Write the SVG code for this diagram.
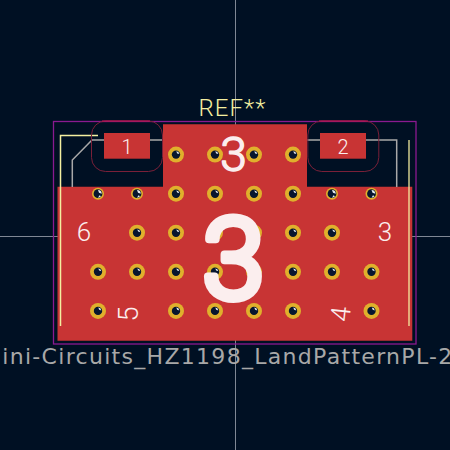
<svg xmlns="http://www.w3.org/2000/svg" width="450" height="450" viewBox="0 0 450 450">
<style>
.ring{fill:#e0b02c}
.hole{fill:#07162f}
.gl{fill:#e6ecf2}
.t{font-family:"Roboto","DejaVu Sans",sans-serif;font-weight:300;fill:#fbeeee;text-anchor:middle}
.big{stroke:#fbeeee;stroke-linejoin:round;stroke-linecap:round}
.g{fill:none;stroke:#a8a8a8;stroke-width:1.500}
.y{fill:none;stroke:#f4efa0;stroke-width:1.500}
.c{fill:none;stroke:#7a2038;stroke-width:1}
</style>
<defs>
<g id="b"><circle r="8" class="ring"/><circle r="4.200" class="hole"/><path d="M0.300-3.300A3.300 3.300 0 0 1 3.300-0.500L1.200-1.200Z" class="gl"/></g>
<g id="s"><circle r="6" class="ring"/><circle r="4.400" class="hole"/><path d="M0-3.800A4 4 0 0 1 3.800 0L1-1ZM3 2.500A4 4 0 0 1 0 4L1.500 1.500Z" class="gl"/></g>
</defs>
<rect width="450" height="450" fill="#001023"/>
<path d="M235.500 0V450M0 236.500H450" stroke="#7f8794" stroke-width="1" fill="none"/>
<rect x="53.500" y="121.500" width="362.500" height="222.500" fill="none" stroke="#8a1a90" stroke-width="1.300"/>
<path d="M163 124.300H307V186.700H412.300V340.700H57.500V186.700H163Z" fill="#c83434"/>
<path class="g" d="M163 140H150M104 140H92L72.300 160V187M307 140H320M366 140H396.700V187"/>
<path class="y" d="M98 135.500H60.500V326"/>
<path class="y" d="M409 140V326" stroke-opacity=".85"/>
<rect x="91.500" y="121" width="71" height="50.500" rx="14" class="c"/>
<rect x="307.800" y="121" width="71" height="50.500" rx="14" class="c"/>
<path d="M102 121H150M319 121H368" stroke="#c8145a" stroke-width="1" fill="none"/>
<rect x="104" y="133" width="46" height="25.700" fill="#c83434"/>
<rect x="320" y="133" width="46" height="25.700" fill="#c83434"/>
<use href="#b" x="176" y="154.600"/><use href="#b" x="215" y="154.600"/><use href="#b" x="254" y="154.600"/><use href="#b" x="293" y="154.600"/>
<use href="#s" x="98" y="193.700"/><use href="#s" x="137" y="193.700"/><use href="#b" x="176" y="193.700"/><use href="#b" x="215" y="193.700"/><use href="#b" x="254" y="193.700"/><use href="#b" x="293" y="193.700"/><use href="#s" x="332" y="193.700"/><use href="#s" x="371.500" y="193.700"/>
<use href="#b" x="137" y="232.700"/><use href="#b" x="176" y="232.700"/><use href="#b" x="215" y="232.700"/><use href="#b" x="254" y="232.700"/><use href="#b" x="293" y="232.700"/><use href="#b" x="332" y="232.700"/>
<use href="#b" x="98" y="271.800"/><use href="#b" x="137" y="271.800"/><use href="#b" x="176" y="271.800"/><use href="#b" x="215" y="271.800"/><use href="#b" x="254" y="271.800"/><use href="#b" x="293" y="271.800"/><use href="#b" x="332" y="271.800"/><use href="#b" x="371.500" y="271.800"/>
<use href="#b" x="98" y="310.900"/><use href="#b" x="176" y="310.900"/><use href="#b" x="215" y="310.900"/><use href="#b" x="254" y="310.900"/><use href="#b" x="293" y="310.900"/><use href="#b" x="371.500" y="310.900"/>
<text class="t" x="127" y="153.500" font-size="20">1</text>
<text class="t" x="343" y="153.500" font-size="20">2</text>
<text class="t big" font-size="48" stroke-width="1.500" transform="translate(233.500 170.500)">3</text>
<text class="t big" font-size="112" stroke-width="8" transform="translate(233.500 298)">3</text>
<text class="t" font-size="26" transform="translate(84 241)">6</text>
<text class="t" font-size="26" transform="translate(385 241)">3</text>
<text class="t" font-size="27" transform="translate(138 314) rotate(-90)">5</text>
<text class="t" font-size="27" transform="translate(350 315) rotate(-84)">4</text>
<text x="232.500" y="115.500" font-size="24" text-anchor="middle" font-family="Roboto, sans-serif" font-weight="300" letter-spacing="1" fill="#f4efa0">REF**</text>
<text x="-18" y="363.500" font-size="22" letter-spacing="1.300" font-family="DejaVu Sans, sans-serif" fill="#a8a8a8">Mini-Circuits_HZ1198_LandPatternPL-2</text>
</svg>
